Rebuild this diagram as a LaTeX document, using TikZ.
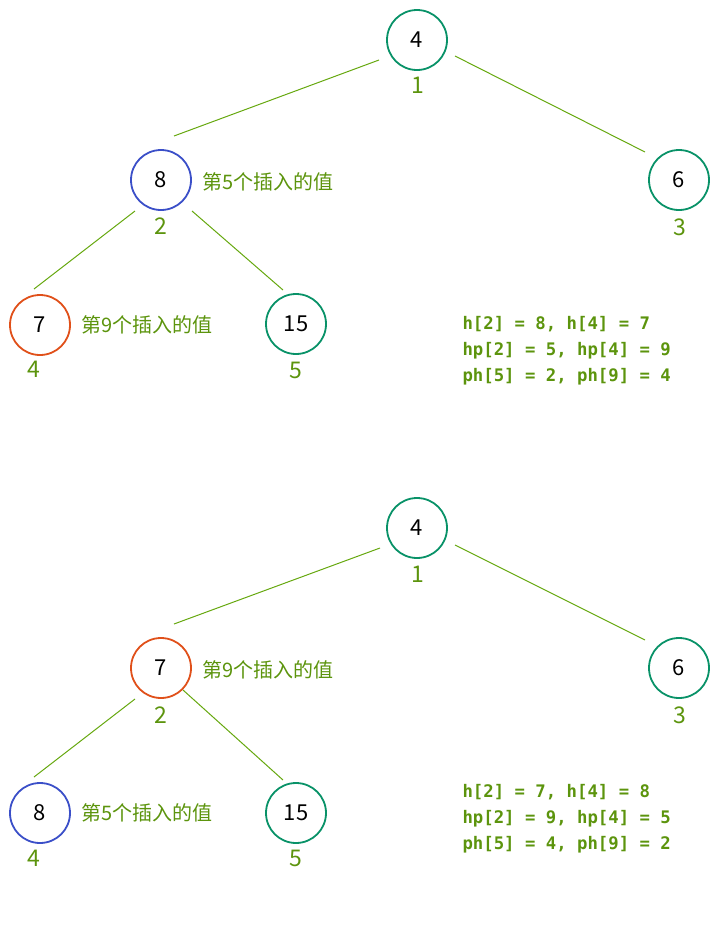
\documentclass[tikz,border=0pt]{standalone}
\usepackage{fontspec}
\setmainfont{Noto Sans CJK SC}
\newfontfamily\codefont{DejaVu Sans Mono}
\usetikzlibrary{calc}
\definecolor{cgreen}{HTML}{099268}
\definecolor{cblue}{HTML}{3B4FC8}
\definecolor{cred}{HTML}{E0501A}
\definecolor{lgreen}{HTML}{66A80F}
\definecolor{tgreen}{HTML}{5C940D}
\tikzset{
  hnode/.style={circle, draw=#1, line width=1.8pt, minimum size=60pt, inner sep=0pt, font=\fontsize{22}{24}\selectfont, text=black},
  hnode/.default=cgreen,
  idx/.style={text=tgreen, font=\fontsize{23}{26}\selectfont},
  note/.style={text=tgreen, font=\fontsize{20}{24}\selectfont, anchor=west},
  info/.style={text=tgreen, font=\codefont\bfseries\fontsize{17.3}{26}\selectfont, anchor=north west, align=left},
  edge/.style={draw=lgreen, line width=1pt}
}
\begin{document}
\begin{tikzpicture}[x=1pt,y=-1pt]
\useasboundingbox (0,0) rectangle (719,943);
% ---------- top tree ----------
\node[hnode] (a1) at (417,40) {4};
\node[hnode=cblue] (a2) at (161,180) {8};
\node[hnode] (a3) at (679,180) {6};
\node[hnode=cred] (a4) at (40,325) {7};
\node[hnode] (a5) at (296,324) {15};
\node[idx] (ai1) at (418,85) {1};
\node[idx] (ai2) at (161,226) {2};
\node[idx] (ai3) at (680,227) {3};
\node[idx] (ai4) at (34,369) {4};
\node[idx] (ai5) at (296,370) {5};
\node[note] (an2) at (199,182) {第5个插入的值};
\node[note] (an4) at (78,325) {第9个插入的值};
\draw[edge] ($(a1)+(-38,20)$) -- ($(a2)+(13,-44)$);
\draw[edge] ($(a1)+(38,16)$) -- ($(a3)+(-34,-28)$);
\draw[edge] ($(a2)+(-26,31)$) -- ($(a4)+(-6,-36)$);
\draw[edge] ($(a2)+(31,31)$) -- ($(a5)+(-13,-34)$);
\node[info] (ainfo) at (459,313) {h[2] = 8, h[4] = 7\\hp[2] = 5, hp[4] = 9\\ph[5] = 2, ph[9] = 4};
% ---------- bottom tree ----------
\node[hnode] (b1) at (417,528) {4};
\node[hnode=cred] (b2) at (161,668) {7};
\node[hnode] (b3) at (679,668) {6};
\node[hnode=cblue] (b4) at (40,813) {8};
\node[hnode] (b5) at (296,813) {15};
\node[idx] (bi1) at (418,574) {1};
\node[idx] (bi2) at (161,715) {2};
\node[idx] (bi3) at (680,715) {3};
\node[idx] (bi4) at (34,858) {4};
\node[idx] (bi5) at (296,858) {5};
\node[note] (bn2) at (199,670) {第9个插入的值};
\node[note] (bn4) at (78,813) {第5个插入的值};
\draw[edge] ($(b1)+(-37,20)$) -- ($(b2)+(13,-44)$);
\draw[edge] ($(b1)+(38,17)$) -- ($(b3)+(-34,-28)$);
\draw[edge] ($(b2)+(-26,31)$) -- ($(b4)+(-6,-36)$);
\draw[edge] ($(b2)+(22,22)$) -- ($(b5)+(-13,-33)$);
\node[info] (binfo) at (459,781) {h[2] = 7, h[4] = 8\\hp[2] = 9, hp[4] = 5\\ph[5] = 4, ph[9] = 2};
\end{tikzpicture}
\end{document}
